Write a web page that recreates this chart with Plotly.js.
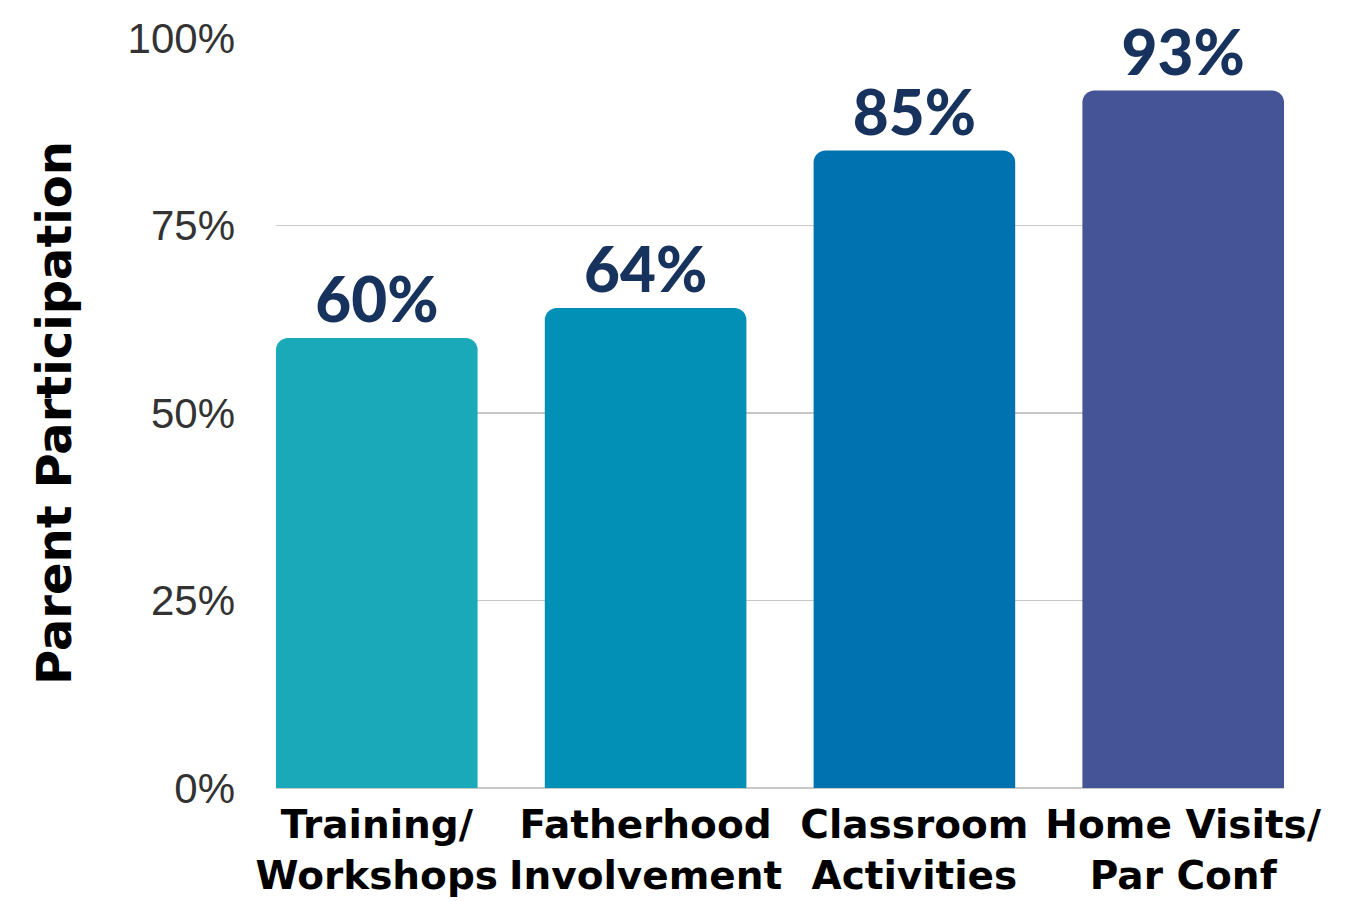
<!DOCTYPE html>
<html>
<head>
<meta charset="utf-8">
<script src="https://cdn.plot.ly/plotly-3.0.1.min.js"></script>
<style>
  html, body { margin: 0; padding: 0; background: #fff; }
  #chart { width: 1348px; height: 901px; }
</style>
</head>
<body>
<div id="chart"></div>
<script>
// chart values
const categories = ['Training/<br>Workshops', 'Fatherhood<br>Involvement', 'Classroom<br>Activities', 'Home Visits/<br>Par Conf'];
const participation = [60, 64, 85, 93];
const barLabels = ['60%', '64%', '85%', '93%'];
const barColors = ['#1aa9b8', '#0290b6', '#0072b0', '#445497'];
const yTicks = [0, 25, 50, 75, 100];
const yTickText = ['0%', '25%', '50%', '75%', '100%'];

const trace = {
    type: 'bar',
    x: categories,
    y: participation,
    text: barLabels,
    textposition: 'outside',
    texttemplate: '%{text}',
    cliponaxis: false,
    marker: { color: barColors, line: { width: 0 } },
    textfont: { family: 'Lato, sans-serif', size: 62, color: '#17325c', weight: 900 },
    hoverinfo: 'skip'
};

const layout = {
    width: 1348,
    height: 901,
    margin: { l: 276, r: 64, t: 38, b: 113 },
    paper_bgcolor: '#fff',
    plot_bgcolor: '#fff',
    showlegend: false,
    bargap: 0.25,
    barcornerradius: 12,
    xaxis: {
        range: [-0.375, 3.375],
        tickangle: 0,
        ticks: '',
        showgrid: false,
        showline: false,
        zeroline: false,
        tickfont: { family: 'DejaVu Sans, sans-serif', size: 39, color: '#000', weight: 'bold' },
        ticklabelstandoff: 10
    },
    yaxis: {
        range: [0, 100],
        tickvals: yTicks,
        ticktext: yTickText,
        showgrid: true,
        gridcolor: '#c8c8c8',
        gridwidth: 1.5,
        zeroline: true,
        zerolinecolor: '#c8c8c8',
        zerolinewidth: 2,
        showline: false,
        ticks: '',
        ticklabelstandoff: 40,
        tickfont: { family: 'Liberation Sans, Arial, sans-serif', size: 42, color: '#333' },
        automargin: true,
        title: {
            // leading spaces nudge the rotated title upward a little
            text: '\u00a0\u00a0\u00a0Parent Participation',
            font: { family: 'DejaVu Sans, sans-serif', size: 48, color: '#000', weight: 'bold' },
            standoff: 40
        }
    }
};

Plotly.newPlot('chart', [trace], layout, { displayModeBar: false, staticPlot: true });
</script>
</body>
</html>
